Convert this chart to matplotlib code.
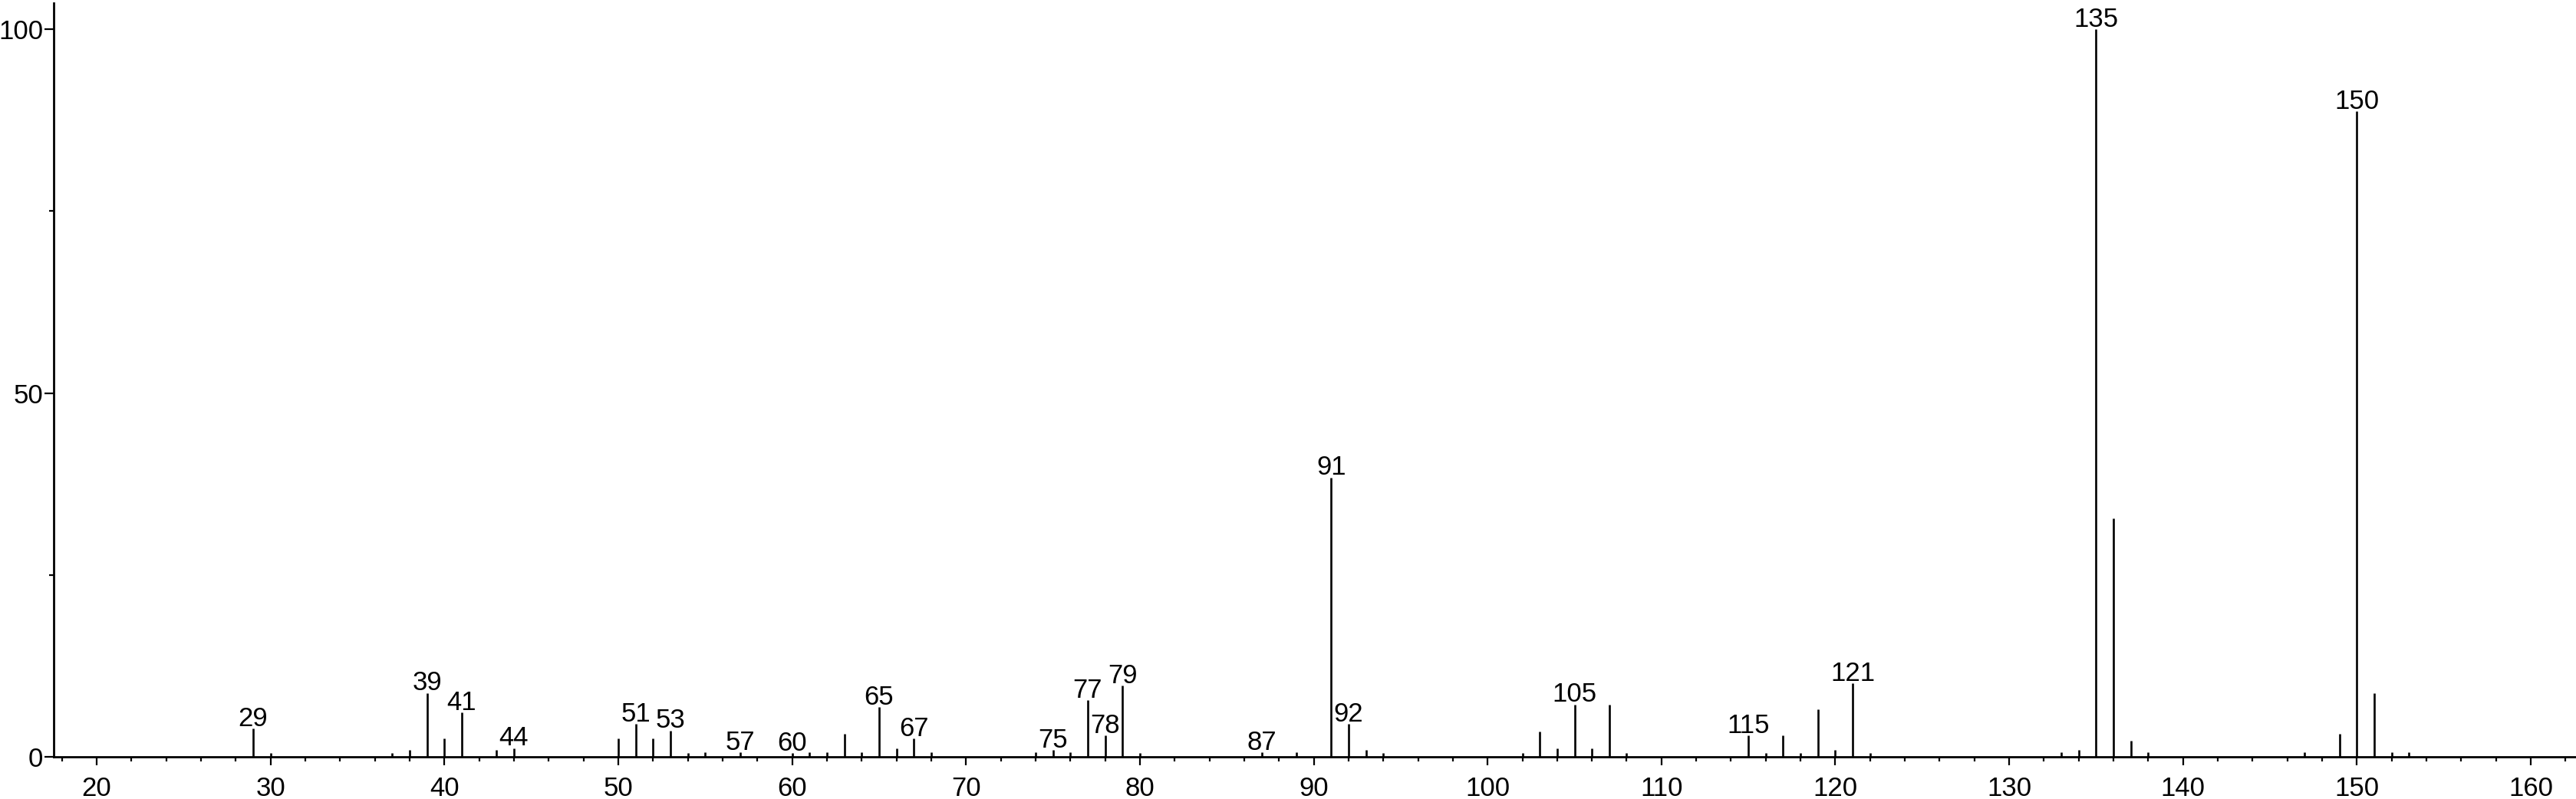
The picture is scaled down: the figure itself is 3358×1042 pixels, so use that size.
import matplotlib
matplotlib.use("Agg")
import matplotlib.pyplot as plt
from matplotlib.ticker import MultipleLocator

plt.rcParams['font.family'] = ['Liberation Sans', 'DejaVu Sans']

# m/z values and relative intensities (%)
mz = [29, 30, 37, 38, 39, 40, 41, 43, 44, 50, 51, 52, 53, 54, 55, 57,
      60, 61, 62, 63, 64, 65, 66, 67, 68, 74, 75, 76, 77, 78, 79, 80,
      87, 89, 91, 92, 93, 94, 102, 103, 104, 105, 106, 107, 108,
      115, 116, 117, 118, 119, 120, 121, 122,
      133, 134, 135, 136, 137, 138, 147, 149, 150, 151, 152, 153]
intensity = [3.9, 0.5, 0.5, 0.9, 8.8, 2.5, 6.1, 0.9, 1.2, 2.5, 4.5, 2.5, 3.6, 0.5, 0.6, 0.6,
             0.5, 0.6, 0.6, 3.2, 0.6, 6.8, 1.2, 2.5, 0.6, 0.6, 0.9, 0.6, 7.8, 2.9, 9.8, 0.5,
             0.6, 0.6, 38.4, 4.5, 0.9, 0.5, 0.5, 3.5, 1.2, 7.2, 1.2, 7.2, 0.5,
             2.9, 0.5, 2.9, 0.5, 6.5, 0.9, 10.1, 0.5,
             0.6, 0.9, 100.0, 32.8, 2.2, 0.6, 0.6, 3.2, 88.7, 8.8, 0.6, 0.6]
labeled = [29, 39, 41, 44, 51, 53, 57, 60, 65, 67, 75, 77, 78, 79, 87, 91, 92,
           105, 115, 121, 135, 150]

xticks = [20, 30, 40, 50, 60, 70, 80, 90, 100, 110, 120, 130, 140, 150, 160]
yticks = [0, 50, 100]

W, H = 3358, 1042
fig = plt.figure(figsize=(W / 100, H / 100), dpi=100)
ax = fig.add_axes([70 / W, 55 / H, (W - 70) / W, (987 - 4) / H])

ax.vlines(mz, 0, intensity, colors='black', linewidth=1.9)

for m, h in zip(mz, intensity):
    if m in labeled:
        ax.annotate(str(m), (m, h), xytext=(0, 2.5), textcoords='offset points',
                    ha='center', va='baseline', fontsize=25, color='black')

ax.set_xlim(17.53, 162.6)
ax.set_ylim(0, 103.6)
ax.set_xticks(xticks)
ax.set_yticks(yticks)
ax.xaxis.set_minor_locator(MultipleLocator(2))
ax.yaxis.set_minor_locator(MultipleLocator(25))

for s in ['top', 'right']:
    ax.spines[s].set_visible(False)
for s in ['left', 'bottom']:
    ax.spines[s].set_linewidth(2.0)

ax.tick_params(axis='x', which='major', length=8, width=1.6, labelsize=25, pad=10)
ax.tick_params(axis='x', which='minor', length=4, width=1.6)
ax.tick_params(axis='y', which='major', length=8.5, width=1.6, labelsize=25, pad=1.5)
ax.tick_params(axis='y', which='minor', length=4, width=1.6)

fig.savefig('out.png', dpi=100, facecolor='white')
